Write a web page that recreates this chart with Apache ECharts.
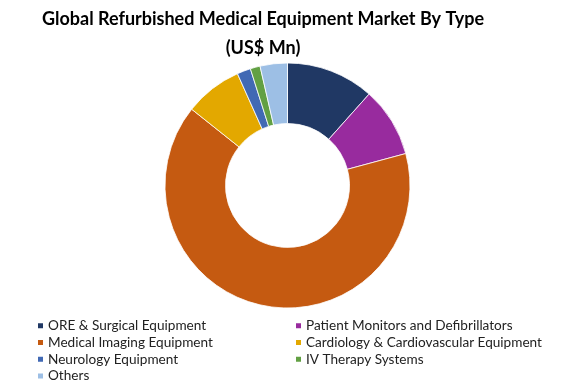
<!DOCTYPE html>
<html>
<head>
<meta charset="utf-8">
<script src="https://cdn.jsdelivr.net/npm/echarts@6/dist/echarts.min.js"></script>
<style>html,body{margin:0;padding:0;background:#fff}#c{width:576px;height:384px}</style>
</head>
<body>
<div id="c"></div>
<script>
const categories = [
  "ORE & Surgical Equipment",
  "Patient Monitors and Defibrillators",
  "Medical Imaging Equipment",
  "Cardiology & Cardiovascular Equipment",
  "Neurology Equipment",
  "IV Therapy Systems",
  "Others"
];
const values = [11.6, 9.2, 64.9, 7.6, 1.8, 1.3, 3.6];
const colors = ["#203864", "#982B9E", "#C55A11", "#E3A800", "#4169B4", "#62A043", "#9DBFE5"];
const legendLeft = ["ORE & Surgical Equipment", "Medical Imaging Equipment", "Neurology Equipment", "Others"];
const legendRight = ["Patient Monitors and Defibrillators", "Cardiology & Cardiovascular Equipment", "IV Therapy Systems"];
const titleText = "Global Refurbished Medical Equipment Market By Type\n(US$ Mn)";

const chart = echarts.init(document.getElementById('c'), null, {renderer: 'canvas'});
const legendCommon = {
  orient: 'vertical',
  icon: 'rect',
  itemWidth: 7,
  itemHeight: 7,
  itemGap: 2.8,
  padding: 0,
  selectedMode: false,
  textStyle: {fontFamily: 'Lato', fontSize: 13.6, color: '#222', lineHeight: 14, padding: [0, 0, 0, -1]}
};
chart.setOption({
  animation: false,
  color: colors,
  title: {
    text: titleText,
    left: 263,
    textAlign: 'center',
    top: 4.5,
    padding: 0,
    textStyle: {fontFamily: 'Lato', fontWeight: 'bold', fontSize: 18, color: '#000', lineHeight: 29}
  },
  legend: [
    Object.assign({}, legendCommon, {data: legendLeft, left: 36, top: 318.7}),
    Object.assign({}, legendCommon, {data: legendRight, left: 294, top: 318.7})
  ],
  series: [{
    type: 'pie',
    center: [287.5, 185.5],
    radius: [62, 122.5],
    startAngle: 90,
    clockwise: true,
    label: {show: false},
    labelLine: {show: false},
    emphasis: {disabled: true},
    itemStyle: {borderColor: '#fff', borderWidth: 0.8},
    data: categories.map((n, i) => ({name: n, value: values[i]}))
  }]
});
</script>
</body>
</html>
